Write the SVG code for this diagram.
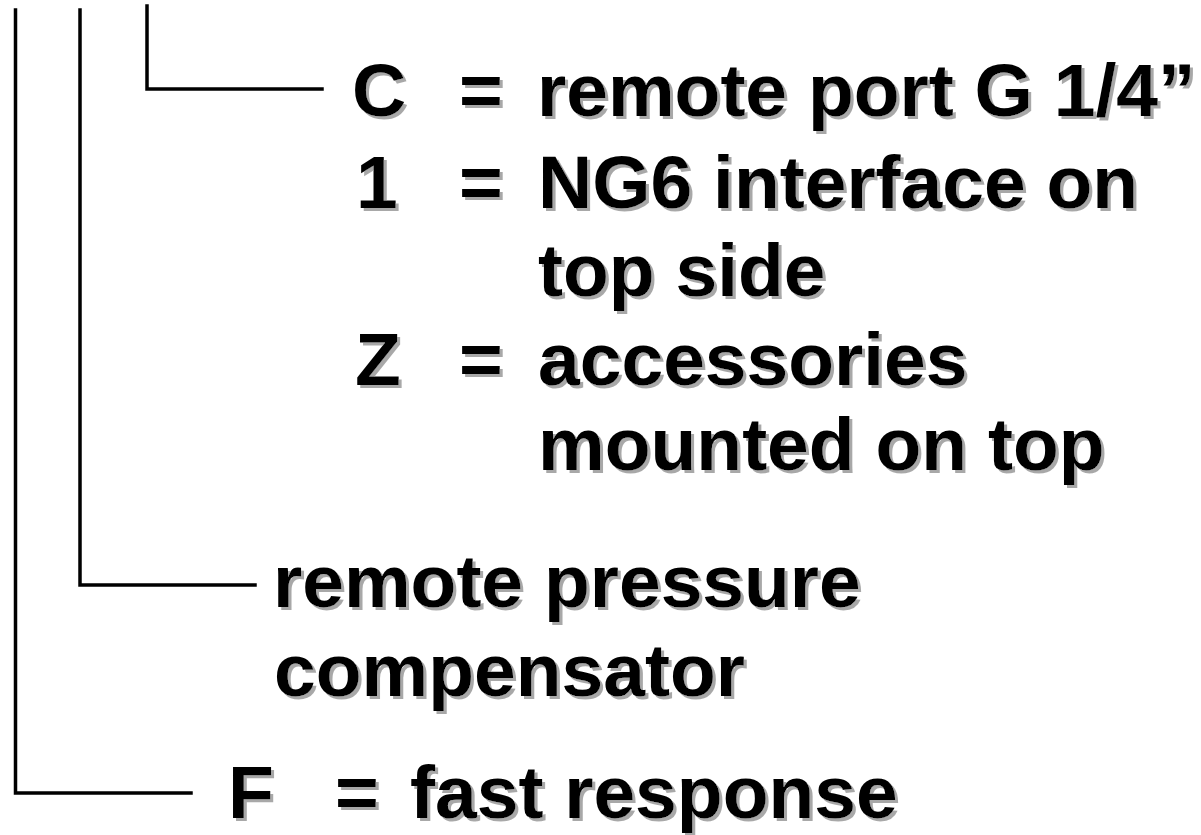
<svg xmlns="http://www.w3.org/2000/svg" width="1201" height="835" viewBox="0 0 1201 835">
<defs>
<filter id="sh" x="-5%" y="-20%" width="110%" height="140%">
<feDropShadow dx="3" dy="3" stdDeviation="0.4" flood-color="#a8a8a8" flood-opacity="1"/>
</filter>
<style>
.t{font-family:"Liberation Sans",Arial,sans-serif;font-weight:bold;font-size:75px;fill:#000;filter:url(#sh)}
.c{fill:none;stroke:#000;stroke-width:3.5;stroke-linecap:square}
</style>
</defs>
<rect width="1201" height="835" fill="#fff"/>
<g id="connectors">
<polyline class="c" points="15.5,10 15.5,793 191,793"/>
<polyline class="c" points="80,10 80,585 255,585"/>
<polyline class="c" points="147,6 147,89 322,89"/>
</g>
<g id="node-c">
<text class="t" x="352" y="116">C</text>
<text class="t" x="459" y="116">=</text>
<text class="t" x="537" y="116">remote port G 1/4”</text>
</g>
<g id="node-1">
<text class="t" x="356" y="208">1</text>
<text class="t" x="459" y="208">=</text>
<text class="t" x="538" y="208">NG6 interface on</text>
<text class="t" x="538" y="296">top side</text>
</g>
<g id="node-z">
<text class="t" x="355" y="385">Z</text>
<text class="t" x="459" y="385">=</text>
<text class="t" x="538" y="385">accessories</text>
<text class="t" x="538" y="470">mounted on top</text>
</g>
<g id="node-remote">
<text class="t" x="273" y="607">remote pressure</text>
<text class="t" x="274" y="696">compensator</text>
</g>
<g id="node-f">
<text class="t" x="228" y="818">F</text>
<text class="t" x="335" y="818">=</text>
<text class="t" x="410" y="818">fast response</text>
</g>
</svg>
